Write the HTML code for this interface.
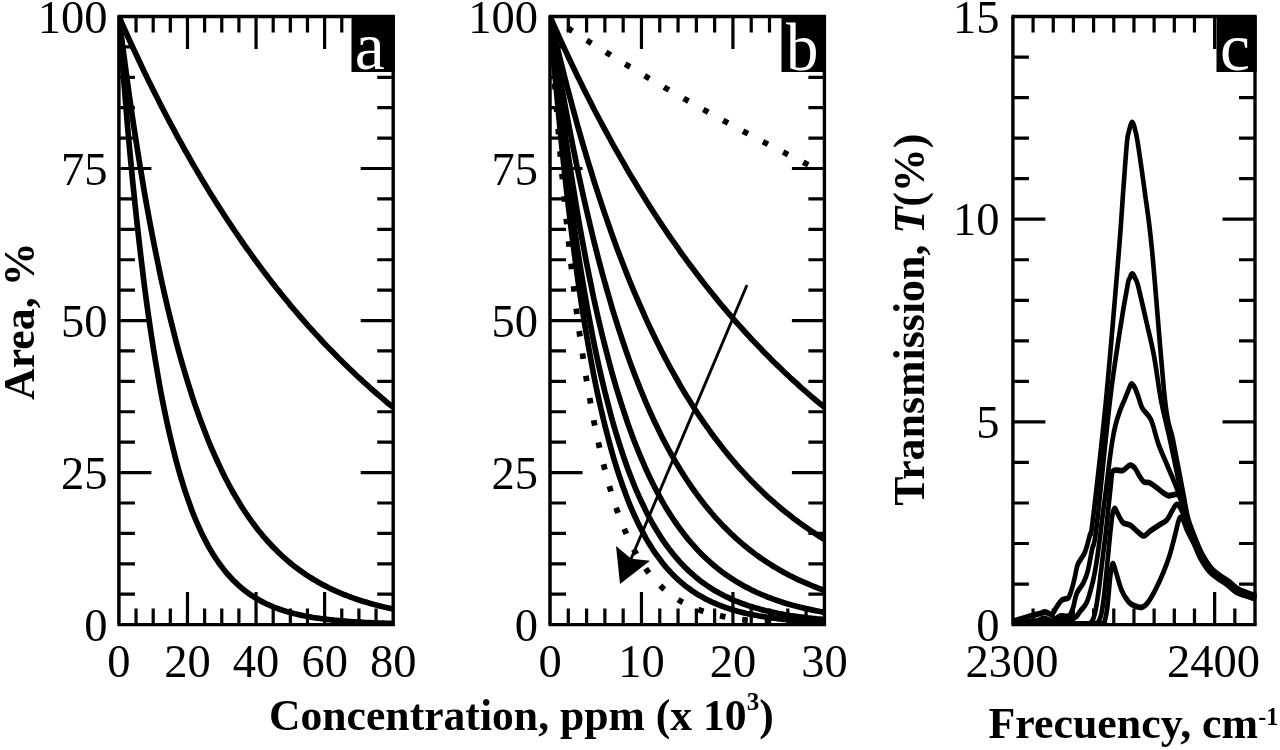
<!DOCTYPE html>
<html lang="en"><head><meta charset="utf-8"><title>Figure</title>
<style>
html,body{margin:0;padding:0;background:#fff;}
body{width:1280px;height:750px;overflow:hidden;}
svg{display:block;font-family:"Liberation Serif",serif;filter:blur(0.55px);}

</style></head><body>
<svg width="1280" height="750" viewBox="0 0 1280 750">
<rect width="1280" height="750" fill="#fff"/>
<g fill="none" stroke="#000">
<path d="M117.45 16.5H394.90" stroke-width="3.4"/>
<path d="M117.45 624.6H394.90" stroke-width="3.4"/>
<path d="M118.90 16.5V624.6" stroke-width="3.5"/>
<path d="M393.20 16.5V624.6" stroke-width="3.4"/>
<path d="M136.04 624.6v-16M136.04 16.5v16M153.19 624.6v-16M153.19 16.5v16M170.33 624.6v-16M170.33 16.5v16M187.47 624.6v-32.5M187.47 16.5v32.5M204.62 624.6v-16M204.62 16.5v16M221.76 624.6v-16M221.76 16.5v16M238.91 624.6v-16M238.91 16.5v16M256.05 624.6v-32.5M256.05 16.5v32.5M273.19 624.6v-16M273.19 16.5v16M290.34 624.6v-16M290.34 16.5v16M307.48 624.6v-16M307.48 16.5v16M324.62 624.6v-32.5M324.62 16.5v32.5M341.77 624.6v-16M341.77 16.5v16M358.91 624.6v-16M358.91 16.5v16M376.06 624.6v-16M376.06 16.5v16" stroke-width="3.2"/>
<path d="M118.90 594.20h16M393.20 594.20h-16M118.90 563.79h16M393.20 563.79h-16M118.90 533.38h16M393.20 533.38h-16M118.90 502.98h16M393.20 502.98h-16M118.90 472.58h32.5M393.20 472.58h-32.5M118.90 442.17h16M393.20 442.17h-16M118.90 411.76h16M393.20 411.76h-16M118.90 381.36h16M393.20 381.36h-16M118.90 350.95h16M393.20 350.95h-16M118.90 320.55h32.5M393.20 320.55h-32.5M118.90 290.14h16M393.20 290.14h-16M118.90 259.74h16M393.20 259.74h-16M118.90 229.33h16M393.20 229.33h-16M118.90 198.93h16M393.20 198.93h-16M118.90 168.52h32.5M393.20 168.52h-32.5M118.90 138.12h16M393.20 138.12h-16M118.90 107.72h16M393.20 107.72h-16M118.90 77.31h16M393.20 77.31h-16M118.90 46.90h16M393.20 46.90h-16" stroke-width="3.2"/>
<clipPath id="ca"><rect x="118.9" y="15.5" width="275.79999999999995" height="610.1"/></clipPath>
<g clip-path="url(#ca)">
<path d="M118.9 16.5L121.2 21.7L123.5 26.8L125.8 32.0L128.0 37.0L130.3 42.0L132.6 47.0L134.9 51.9L137.2 56.8L139.5 61.7L141.8 66.5L144.0 71.3L146.3 76.0L148.6 80.7L150.9 85.3L153.2 89.9L155.5 94.5L157.8 99.0L160.0 103.5L162.3 108.0L164.6 112.4L166.9 116.8L169.2 121.1L171.5 125.4L173.8 129.7L176.0 133.9L178.3 138.1L180.6 142.2L182.9 146.4L185.2 150.5L187.5 154.5L189.8 158.5L192.0 162.5L194.3 166.4L196.6 170.4L198.9 174.2L201.2 178.1L203.5 181.9L205.8 185.7L208.0 189.4L210.3 193.2L212.6 196.8L214.9 200.5L217.2 204.1L219.5 207.7L221.8 211.3L224.0 214.8L226.3 218.3L228.6 221.8L230.9 225.2L233.2 228.6L235.5 232.0L237.8 235.4L240.0 238.7L242.3 242.0L244.6 245.3L246.9 248.5L249.2 251.7L251.5 254.9L253.8 258.1L256.0 261.2L258.3 264.3L260.6 267.4L262.9 270.4L265.2 273.4L267.5 276.4L269.8 279.4L272.1 282.4L274.3 285.3L276.6 288.2L278.9 291.1L281.2 293.9L283.5 296.7L285.8 299.5L288.1 302.3L290.3 305.1L292.6 307.8L294.9 310.5L297.2 313.2L299.5 315.9L301.8 318.5L304.1 321.1L306.3 323.7L308.6 326.3L310.9 328.8L313.2 331.3L315.5 333.9L317.8 336.3L320.1 338.8L322.3 341.2L324.6 343.7L326.9 346.1L329.2 348.4L331.5 350.8L333.8 353.1L336.1 355.5L338.3 357.8L340.6 360.0L342.9 362.3L345.2 364.5L347.5 366.8L349.8 369.0L352.1 371.1L354.3 373.3L356.6 375.5L358.9 377.6L361.2 379.7L363.5 381.8L365.8 383.9L368.1 385.9L370.3 388.0L372.6 390.0L374.9 392.0L377.2 394.0L379.5 395.9L381.8 397.9L384.1 399.8L386.3 401.8L388.6 403.7L390.9 405.5L393.2 407.4" stroke-width="5.7"/>
<path d="M118.9 16.5L121.2 34.8L123.5 52.5L125.8 69.7L128.0 86.4L130.3 102.6L132.6 118.3L134.9 133.5L137.2 148.3L139.5 162.6L141.8 176.5L144.0 190.0L146.3 203.0L148.6 215.7L150.9 228.0L153.2 239.9L155.5 251.5L157.8 262.7L160.0 273.6L162.3 284.2L164.6 294.4L166.9 304.3L169.2 314.0L171.5 323.3L173.8 332.4L176.0 341.2L178.3 349.7L180.6 357.9L182.9 366.0L185.2 373.7L187.5 381.3L189.8 388.6L192.0 395.7L194.3 402.6L196.6 409.3L198.9 415.7L201.2 422.0L203.5 428.1L205.8 434.0L208.0 439.8L210.3 445.3L212.6 450.7L214.9 455.9L217.2 461.0L219.5 465.9L221.8 470.7L224.0 475.3L226.3 479.8L228.6 484.2L230.9 488.4L233.2 492.5L235.5 496.5L237.8 500.3L240.0 504.0L242.3 507.7L244.6 511.2L246.9 514.6L249.2 517.9L251.5 521.1L253.8 524.2L256.0 527.2L258.3 530.2L260.6 533.0L262.9 535.8L265.2 538.4L267.5 541.0L269.8 543.5L272.1 546.0L274.3 548.3L276.6 550.6L278.9 552.9L281.2 555.0L283.5 557.1L285.8 559.1L288.1 561.1L290.3 563.0L292.6 564.9L294.9 566.7L297.2 568.4L299.5 570.1L301.8 571.7L304.1 573.3L306.3 574.9L308.6 576.4L310.9 577.8L313.2 579.2L315.5 580.6L317.8 581.9L320.1 583.2L322.3 584.4L324.6 585.6L326.9 586.8L329.2 588.0L331.5 589.1L333.8 590.1L336.1 591.2L338.3 592.2L340.6 593.1L342.9 594.1L345.2 595.0L347.5 595.9L349.8 596.8L352.1 597.6L354.3 598.4L356.6 599.2L358.9 600.0L361.2 600.7L363.5 601.4L365.8 602.1L368.1 602.8L370.3 603.4L372.6 604.1L374.9 604.7L377.2 605.3L379.5 605.9L381.8 606.4L384.1 607.0L386.3 607.5L388.6 608.0L390.9 608.5L393.2 609.0" stroke-width="5.7"/>
<path d="M118.9 16.5L121.2 47.5L123.5 76.9L125.8 104.9L128.0 131.4L130.3 156.5L132.6 180.4L134.9 203.0L137.2 224.5L139.5 244.9L141.8 264.3L144.0 282.6L146.3 300.1L148.6 316.6L150.9 332.3L153.2 347.2L155.5 361.4L157.8 374.8L160.0 387.5L162.3 399.6L164.6 411.1L166.9 422.0L169.2 432.3L171.5 442.1L173.8 451.4L176.0 460.2L178.3 468.6L180.6 476.6L182.9 484.1L185.2 491.3L187.5 498.1L189.8 504.5L192.0 510.7L194.3 516.5L196.6 522.0L198.9 527.2L201.2 532.2L203.5 536.9L205.8 541.4L208.0 545.6L210.3 549.6L212.6 553.5L214.9 557.1L217.2 560.5L219.5 563.8L221.8 566.9L224.0 569.8L226.3 572.6L228.6 575.3L230.9 577.8L233.2 580.2L235.5 582.4L237.8 584.6L240.0 586.6L242.3 588.6L244.6 590.4L246.9 592.2L249.2 593.8L251.5 595.4L253.8 596.9L256.0 598.3L258.3 599.6L260.6 600.9L262.9 602.1L265.2 603.3L267.5 604.3L269.8 605.4L272.1 606.4L274.3 607.3L276.6 608.2L278.9 609.0L281.2 609.8L283.5 610.6L285.8 611.3L288.1 611.9L290.3 612.6L292.6 613.2L294.9 613.8L297.2 614.3L299.5 614.9L301.8 615.4L304.1 615.8L306.3 616.3L308.6 616.7L310.9 617.1L313.2 617.5L315.5 617.8L317.8 618.2L320.1 618.5L322.3 618.8L324.6 619.1L326.9 619.4L329.2 619.7L331.5 619.9L333.8 620.2L336.1 620.4L338.3 620.6L340.6 620.8L342.9 621.0L345.2 621.2L347.5 621.4L349.8 621.5L352.1 621.7L354.3 621.8L356.6 622.0L358.9 622.1L361.2 622.2L363.5 622.4L365.8 622.5L368.1 622.6L370.3 622.7L372.6 622.8L374.9 622.9L377.2 623.0L379.5 623.0L381.8 623.1L384.1 623.2L386.3 623.3L388.6 623.3L390.9 623.4L393.2 623.5" stroke-width="5.7"/>
</g>
<rect x="351.5" y="16.5" width="43.19999999999999" height="55.5" fill="#000" stroke="none"/>
<text transform="translate(354.7 69.3) scale(1.0 1)" font-size="67.5" text-anchor="start" font-weight="normal" stroke="none" fill="#fff">a</text>
<text transform="translate(107.5 640.6) scale(1.0 1)" font-size="46.5" text-anchor="end" font-weight="normal" stroke="none"  fill="#000">0</text>
<text transform="translate(107.5 488.57500000000005) scale(1.0 1)" font-size="46.5" text-anchor="end" font-weight="normal" stroke="none"  fill="#000">25</text>
<text transform="translate(107.5 336.55) scale(1.0 1)" font-size="46.5" text-anchor="end" font-weight="normal" stroke="none"  fill="#000">50</text>
<text transform="translate(107.5 184.52500000000003) scale(1.0 1)" font-size="46.5" text-anchor="end" font-weight="normal" stroke="none"  fill="#000">75</text>
<text transform="translate(107.5 33.0) scale(1.0 1)" font-size="46.5" text-anchor="end" font-weight="normal" stroke="none"  fill="#000">100</text>
<text transform="translate(118.9 677) scale(1.0 1)" font-size="46.5" text-anchor="middle" font-weight="normal" stroke="none"  fill="#000">0</text>
<text transform="translate(187.475 677) scale(1.0 1)" font-size="46.5" text-anchor="middle" font-weight="normal" stroke="none"  fill="#000">20</text>
<text transform="translate(256.04999999999995 677) scale(1.0 1)" font-size="46.5" text-anchor="middle" font-weight="normal" stroke="none"  fill="#000">40</text>
<text transform="translate(324.625 677) scale(1.0 1)" font-size="46.5" text-anchor="middle" font-weight="normal" stroke="none"  fill="#000">60</text>
<text transform="translate(393.19999999999993 677) scale(1.0 1)" font-size="46.5" text-anchor="middle" font-weight="normal" stroke="none"  fill="#000">80</text>
<path d="M548.55 16.5H826.10" stroke-width="3.4"/>
<path d="M548.55 624.6H826.10" stroke-width="3.4"/>
<path d="M550.00 16.5V624.6" stroke-width="3.5"/>
<path d="M824.40 16.5V624.6" stroke-width="3.4"/>
<path d="M568.29 624.6v-16M568.29 16.5v16M586.59 624.6v-16M586.59 16.5v16M604.88 624.6v-16M604.88 16.5v16M623.17 624.6v-16M623.17 16.5v16M641.47 624.6v-32.5M641.47 16.5v32.5M659.76 624.6v-16M659.76 16.5v16M678.05 624.6v-16M678.05 16.5v16M696.35 624.6v-16M696.35 16.5v16M714.64 624.6v-16M714.64 16.5v16M732.93 624.6v-32.5M732.93 16.5v32.5M751.23 624.6v-16M751.23 16.5v16M769.52 624.6v-16M769.52 16.5v16M787.81 624.6v-16M787.81 16.5v16M806.11 624.6v-16M806.11 16.5v16" stroke-width="3.2"/>
<path d="M550.00 594.20h16M824.40 594.20h-16M550.00 563.79h16M824.40 563.79h-16M550.00 533.38h16M824.40 533.38h-16M550.00 502.98h16M824.40 502.98h-16M550.00 472.58h32.5M824.40 472.58h-32.5M550.00 442.17h16M824.40 442.17h-16M550.00 411.76h16M824.40 411.76h-16M550.00 381.36h16M824.40 381.36h-16M550.00 350.95h16M824.40 350.95h-16M550.00 320.55h32.5M824.40 320.55h-32.5M550.00 290.14h16M824.40 290.14h-16M550.00 259.74h16M824.40 259.74h-16M550.00 229.33h16M824.40 229.33h-16M550.00 198.93h16M824.40 198.93h-16M550.00 168.52h32.5M824.40 168.52h-32.5M550.00 138.12h16M824.40 138.12h-16M550.00 107.72h16M824.40 107.72h-16M550.00 77.31h16M824.40 77.31h-16M550.00 46.90h16M824.40 46.90h-16" stroke-width="3.2"/>
<clipPath id="cb"><rect x="550.0" y="15.5" width="275.9" height="610.1"/></clipPath>
<g clip-path="url(#cb)">
<path d="M550.0 16.5L552.3 21.7L554.6 26.8L556.9 31.9L559.1 37.0L561.4 42.0L563.7 47.0L566.0 51.9L568.3 56.8L570.6 61.7L572.9 66.5L575.2 71.2L577.4 76.0L579.7 80.6L582.0 85.3L584.3 89.9L586.6 94.5L588.9 99.0L591.2 103.5L593.4 107.9L595.7 112.3L598.0 116.7L600.3 121.0L602.6 125.3L604.9 129.6L607.2 133.8L609.5 138.0L611.7 142.2L614.0 146.3L616.3 150.4L618.6 154.4L620.9 158.4L623.2 162.4L625.5 166.4L627.7 170.3L630.0 174.2L632.3 178.0L634.6 181.8L636.9 185.6L639.2 189.4L641.5 193.1L643.8 196.8L646.0 200.4L648.3 204.0L650.6 207.6L652.9 211.2L655.2 214.7L657.5 218.2L659.8 221.7L662.0 225.1L664.3 228.5L666.6 231.9L668.9 235.3L671.2 238.6L673.5 241.9L675.8 245.2L678.1 248.4L680.3 251.6L682.6 254.8L684.9 257.9L687.2 261.1L689.5 264.2L691.8 267.3L694.1 270.3L696.3 273.3L698.6 276.3L700.9 279.3L703.2 282.3L705.5 285.2L707.8 288.1L710.1 291.0L712.4 293.8L714.6 296.6L716.9 299.4L719.2 302.2L721.5 305.0L723.8 307.7L726.1 310.4L728.4 313.1L730.6 315.7L732.9 318.4L735.2 321.0L737.5 323.6L739.8 326.1L742.1 328.7L744.4 331.2L746.7 333.7L748.9 336.2L751.2 338.7L753.5 341.1L755.8 343.5L758.1 345.9L760.4 348.3L762.7 350.7L764.9 353.0L767.2 355.3L769.5 357.6L771.8 359.9L774.1 362.2L776.4 364.4L778.7 366.6L781.0 368.8L783.2 371.0L785.5 373.2L787.8 375.3L790.1 377.5L792.4 379.6L794.7 381.7L797.0 383.7L799.2 385.8L801.5 387.8L803.8 389.9L806.1 391.9L808.4 393.8L810.7 395.8L813.0 397.8L815.3 399.7L817.5 401.6L819.8 403.5L822.1 405.4L824.4 407.3" stroke-width="5.7"/>
<path d="M550.0 16.5L552.3 26.4L554.6 36.1L556.9 45.7L559.1 55.1L561.4 64.3L563.7 73.4L566.0 82.4L568.3 91.2L570.6 99.8L572.9 108.4L575.2 116.7L577.4 125.0L579.7 133.1L582.0 141.1L584.3 148.9L586.6 156.7L588.9 164.3L591.2 171.7L593.4 179.1L595.7 186.3L598.0 193.4L600.3 200.4L602.6 207.3L604.9 214.1L607.2 220.8L609.5 227.3L611.7 233.8L614.0 240.1L616.3 246.4L618.6 252.5L620.9 258.6L623.2 264.5L625.5 270.4L627.7 276.1L630.0 281.8L632.3 287.3L634.6 292.8L636.9 298.2L639.2 303.5L641.5 308.7L643.8 313.9L646.0 318.9L648.3 323.9L650.6 328.8L652.9 333.6L655.2 338.3L657.5 342.9L659.8 347.5L662.0 352.0L664.3 356.4L666.6 360.8L668.9 365.1L671.2 369.3L673.5 373.4L675.8 377.5L678.1 381.5L680.3 385.5L682.6 389.4L684.9 393.2L687.2 396.9L689.5 400.6L691.8 404.3L694.1 407.9L696.3 411.4L698.6 414.8L700.9 418.2L703.2 421.6L705.5 424.9L707.8 428.1L710.1 431.3L712.4 434.5L714.6 437.6L716.9 440.6L719.2 443.6L721.5 446.5L723.8 449.4L726.1 452.3L728.4 455.1L730.6 457.8L732.9 460.5L735.2 463.2L737.5 465.8L739.8 468.4L742.1 470.9L744.4 473.4L746.7 475.9L748.9 478.3L751.2 480.7L753.5 483.0L755.8 485.3L758.1 487.6L760.4 489.8L762.7 492.0L764.9 494.1L767.2 496.3L769.5 498.3L771.8 500.4L774.1 502.4L776.4 504.4L778.7 506.3L781.0 508.3L783.2 510.2L785.5 512.0L787.8 513.8L790.1 515.6L792.4 517.4L794.7 519.2L797.0 520.9L799.2 522.5L801.5 524.2L803.8 525.8L806.1 527.4L808.4 529.0L810.7 530.6L813.0 532.1L815.3 533.6L817.5 535.1L819.8 536.5L822.1 538.0L824.4 539.4" stroke-width="5.7"/>
<path d="M550.0 16.5L552.3 30.9L554.6 45.0L556.9 58.7L559.1 72.2L561.4 85.3L563.7 98.1L566.0 110.5L568.3 122.7L570.6 134.6L572.9 146.3L575.2 157.6L577.4 168.7L579.7 179.5L582.0 190.0L584.3 200.3L586.6 210.4L588.9 220.2L591.2 229.8L593.4 239.2L595.7 248.3L598.0 257.2L600.3 266.0L602.6 274.5L604.9 282.8L607.2 290.9L609.5 298.8L611.7 306.5L614.0 314.1L616.3 321.4L618.6 328.6L620.9 335.6L623.2 342.5L625.5 349.2L627.7 355.7L630.0 362.1L632.3 368.3L634.6 374.4L636.9 380.3L639.2 386.1L641.5 391.8L643.8 397.3L646.0 402.7L648.3 407.9L650.6 413.1L652.9 418.1L655.2 423.0L657.5 427.8L659.8 432.4L662.0 437.0L664.3 441.4L666.6 445.8L668.9 450.0L671.2 454.2L673.5 458.2L675.8 462.2L678.1 466.0L680.3 469.8L682.6 473.4L684.9 477.0L687.2 480.5L689.5 483.9L691.8 487.3L694.1 490.5L696.3 493.7L698.6 496.8L700.9 499.8L703.2 502.8L705.5 505.7L707.8 508.5L710.1 511.3L712.4 514.0L714.6 516.6L716.9 519.1L719.2 521.6L721.5 524.1L723.8 526.5L726.1 528.8L728.4 531.1L730.6 533.3L732.9 535.4L735.2 537.6L737.5 539.6L739.8 541.6L742.1 543.6L744.4 545.5L746.7 547.4L748.9 549.2L751.2 551.0L753.5 552.8L755.8 554.5L758.1 556.1L760.4 557.8L762.7 559.3L764.9 560.9L767.2 562.4L769.5 563.9L771.8 565.3L774.1 566.7L776.4 568.1L778.7 569.4L781.0 570.7L783.2 572.0L785.5 573.3L787.8 574.5L790.1 575.7L792.4 576.8L794.7 578.0L797.0 579.1L799.2 580.2L801.5 581.2L803.8 582.2L806.1 583.2L808.4 584.2L810.7 585.2L813.0 586.1L815.3 587.0L817.5 587.9L819.8 588.8L822.1 589.6L824.4 590.5" stroke-width="5.7"/>
<path d="M550.0 16.5L552.3 35.9L554.6 54.8L556.9 73.0L559.1 90.6L561.4 107.7L563.7 124.2L566.0 140.2L568.3 155.7L570.6 170.7L572.9 185.2L575.2 199.3L577.4 212.9L579.7 226.0L582.0 238.8L584.3 251.1L586.6 263.1L588.9 274.6L591.2 285.8L593.4 296.7L595.7 307.1L598.0 317.3L600.3 327.1L602.6 336.6L604.9 345.8L607.2 354.8L609.5 363.4L611.7 371.7L614.0 379.8L616.3 387.7L618.6 395.2L620.9 402.6L623.2 409.7L625.5 416.5L627.7 423.2L630.0 429.6L632.3 435.9L634.6 441.9L636.9 447.7L639.2 453.4L641.5 458.9L643.8 464.2L646.0 469.3L648.3 474.3L650.6 479.1L652.9 483.7L655.2 488.2L657.5 492.6L659.8 496.8L662.0 500.9L664.3 504.9L666.6 508.7L668.9 512.4L671.2 516.0L673.5 519.5L675.8 522.8L678.1 526.1L680.3 529.2L682.6 532.3L684.9 535.2L687.2 538.1L689.5 540.8L691.8 543.5L694.1 546.1L696.3 548.6L698.6 551.1L700.9 553.4L703.2 555.7L705.5 557.9L707.8 560.0L710.1 562.1L712.4 564.1L714.6 566.0L716.9 567.9L719.2 569.7L721.5 571.5L723.8 573.2L726.1 574.8L728.4 576.4L730.6 577.9L732.9 579.4L735.2 580.9L737.5 582.3L739.8 583.6L742.1 584.9L744.4 586.2L746.7 587.4L748.9 588.6L751.2 589.8L753.5 590.9L755.8 592.0L758.1 593.0L760.4 594.0L762.7 595.0L764.9 595.9L767.2 596.9L769.5 597.7L771.8 598.6L774.1 599.4L776.4 600.2L778.7 601.0L781.0 601.8L783.2 602.5L785.5 603.2L787.8 603.9L790.1 604.6L792.4 605.2L794.7 605.8L797.0 606.4L799.2 607.0L801.5 607.6L803.8 608.1L806.1 608.6L808.4 609.1L810.7 609.6L813.0 610.1L815.3 610.6L817.5 611.0L819.8 611.5L822.1 611.9L824.4 612.3" stroke-width="5.7"/>
<path d="M550.0 16.5L552.3 40.3L554.6 63.3L556.9 85.3L559.1 106.4L561.4 126.7L563.7 146.3L566.0 165.0L568.3 183.0L570.6 200.3L572.9 217.0L575.2 233.0L577.4 248.3L579.7 263.1L582.0 277.2L584.3 290.9L586.6 304.0L588.9 316.5L591.2 328.6L593.4 340.2L595.7 351.4L598.0 362.1L600.3 372.4L602.6 382.3L604.9 391.8L607.2 400.9L609.5 409.7L611.7 418.1L614.0 426.2L616.3 434.0L618.6 441.4L620.9 448.6L623.2 455.5L625.5 462.2L627.7 468.5L630.0 474.6L632.3 480.5L634.6 486.2L636.9 491.6L639.2 496.8L641.5 501.8L643.8 506.6L646.0 511.3L648.3 515.7L650.6 520.0L652.9 524.1L655.2 528.0L657.5 531.8L659.8 535.4L662.0 538.9L664.3 542.3L666.6 545.5L668.9 548.6L671.2 551.6L673.5 554.5L675.8 557.2L678.1 559.9L680.3 562.4L682.6 564.8L684.9 567.2L687.2 569.4L689.5 571.6L691.8 573.7L694.1 575.7L696.3 577.6L698.6 579.4L700.9 581.2L703.2 582.9L705.5 584.5L707.8 586.1L710.1 587.6L712.4 589.1L714.6 590.5L716.9 591.8L719.2 593.1L721.5 594.3L723.8 595.5L726.1 596.7L728.4 597.7L730.6 598.8L732.9 599.8L735.2 600.8L737.5 601.7L739.8 602.6L742.1 603.5L744.4 604.3L746.7 605.1L748.9 605.9L751.2 606.6L753.5 607.3L755.8 608.0L758.1 608.6L760.4 609.3L762.7 609.9L764.9 610.4L767.2 611.0L769.5 611.5L771.8 612.0L774.1 612.5L776.4 613.0L778.7 613.5L781.0 613.9L783.2 614.3L785.5 614.7L787.8 615.1L790.1 615.5L792.4 615.8L794.7 616.2L797.0 616.5L799.2 616.8L801.5 617.1L803.8 617.4L806.1 617.7L808.4 618.0L810.7 618.2L813.0 618.5L815.3 618.7L817.5 619.0L819.8 619.2L822.1 619.4L824.4 619.6" stroke-width="5.7"/>
<path d="M550.0 16.5L552.3 44.1L554.6 70.5L556.9 95.7L559.1 119.7L561.4 142.7L563.7 164.5L566.0 185.5L568.3 205.4L570.6 224.5L572.9 242.6L575.2 260.0L577.4 276.6L579.7 292.4L582.0 307.5L584.3 321.9L586.6 335.6L588.9 348.8L591.2 361.3L593.4 373.3L595.7 384.7L598.0 395.6L600.3 406.0L602.6 415.9L604.9 425.4L607.2 434.4L609.5 443.1L611.7 451.3L614.0 459.2L616.3 466.7L618.6 473.9L620.9 480.7L623.2 487.3L625.5 493.5L627.7 499.5L630.0 505.2L632.3 510.6L634.6 515.8L636.9 520.7L639.2 525.4L641.5 529.9L643.8 534.2L646.0 538.3L648.3 542.3L650.6 546.0L652.9 549.6L655.2 553.0L657.5 556.2L659.8 559.3L662.0 562.3L664.3 565.1L666.6 567.8L668.9 570.4L671.2 572.9L673.5 575.2L675.8 577.5L678.1 579.6L680.3 581.7L682.6 583.6L684.9 585.5L687.2 587.2L689.5 588.9L691.8 590.6L694.1 592.1L696.3 593.6L698.6 595.0L700.9 596.3L703.2 597.6L705.5 598.9L707.8 600.0L710.1 601.1L712.4 602.2L714.6 603.2L716.9 604.2L719.2 605.1L721.5 606.0L723.8 606.9L726.1 607.7L728.4 608.4L730.6 609.2L732.9 609.9L735.2 610.5L737.5 611.2L739.8 611.8L742.1 612.4L744.4 612.9L746.7 613.5L748.9 614.0L751.2 614.4L753.5 614.9L755.8 615.3L758.1 615.8L760.4 616.2L762.7 616.5L764.9 616.9L767.2 617.3L769.5 617.6L771.8 617.9L774.1 618.2L776.4 618.5L778.7 618.8L781.0 619.0L783.2 619.3L785.5 619.5L787.8 619.8L790.1 620.0L792.4 620.2L794.7 620.4L797.0 620.6L799.2 620.8L801.5 620.9L803.8 621.1L806.1 621.3L808.4 621.4L810.7 621.6L813.0 621.7L815.3 621.8L817.5 622.0L819.8 622.1L822.1 622.2L824.4 622.3" stroke-width="5.7"/>
<path d="M550.0 16.5L552.2 17.9L554.4 19.4L556.5 20.8L558.7 22.2L560.9 23.6L563.1 25.0L565.3 26.5L567.4 27.9L569.6 29.3L571.8 30.7L574.0 32.1L576.2 33.5L578.3 34.9L580.5 36.3L582.7 37.6L584.9 39.0L587.1 40.4L589.2 41.8L591.4 43.2L593.6 44.5L595.8 45.9L598.0 47.3L600.1 48.6L602.3 50.0L604.5 51.3L606.7 52.7L608.9 54.0L611.0 55.4L613.2 56.7L615.4 58.1L617.6 59.4L619.8 60.7L621.9 62.1L624.1 63.4L626.3 64.7L628.5 66.0L630.7 67.3L632.8 68.7L635.0 70.0L637.2 71.3L639.4 72.6L641.6 73.9L643.7 75.2L645.9 76.5L648.1 77.8L650.3 79.0L652.5 80.3L654.6 81.6L656.8 82.9L659.0 84.2L661.2 85.4L663.4 86.7L665.5 88.0L667.7 89.2L669.9 90.5L672.1 91.8L674.3 93.0L676.4 94.3L678.6 95.5L680.8 96.8L683.0 98.0L685.2 99.3L687.3 100.5L689.5 101.7L691.7 103.0L693.9 104.2L696.1 105.4L698.2 106.6L700.4 107.9L702.6 109.1L704.8 110.3L707.0 111.5L709.1 112.7L711.3 113.9L713.5 115.1L715.7 116.3L717.9 117.5L720.0 118.7L722.2 119.9L724.4 121.1L726.6 122.3L728.8 123.5L730.9 124.7L733.1 125.8L735.3 127.0L737.5 128.2L739.7 129.3L741.8 130.5L744.0 131.7L746.2 132.8L748.4 134.0L750.6 135.2L752.7 136.3L754.9 137.5L757.1 138.6L759.3 139.8L761.5 140.9L763.6 142.0L765.8 143.2L768.0 144.3L770.2 145.4L772.4 146.6L774.5 147.7L776.7 148.8L778.9 149.9L781.1 151.1L783.3 152.2L785.4 153.3L787.6 154.4L789.8 155.5L792.0 156.6L794.2 157.7L796.3 158.8L798.5 159.9L800.7 161.0L802.9 162.1L805.1 163.2L807.2 164.3L809.4 165.4L811.6 166.4" stroke-width="5.8" stroke-dasharray="5.6 17.0" stroke-dashoffset="-21.2"/>
<path d="M550.0 16.5L552.3 50.2L554.6 82.0L556.9 112.1L559.1 140.5L561.4 167.3L563.7 192.6L566.0 216.6L568.3 239.2L570.6 260.5L572.9 280.7L575.2 299.8L577.4 317.8L579.7 334.8L582.0 350.8L584.3 366.0L586.6 380.3L588.9 393.8L591.2 406.6L593.4 418.7L595.7 430.1L598.0 440.9L600.3 451.1L602.6 460.7L604.9 469.8L607.2 478.3L609.5 486.5L611.7 494.1L614.0 501.3L616.3 508.2L618.6 514.6L620.9 520.7L623.2 526.5L625.5 531.9L627.7 537.0L630.0 541.9L632.3 546.5L634.6 550.8L636.9 554.9L639.2 558.8L641.5 562.4L643.8 565.8L646.0 569.1L648.3 572.2L650.6 575.1L652.9 577.8L655.2 580.4L657.5 582.9L659.8 585.2L662.0 587.4L664.3 589.4L666.6 591.4L668.9 593.2L671.2 595.0L673.5 596.6L675.8 598.1L678.1 599.6L680.3 601.0L682.6 602.3L684.9 603.5L687.2 604.7L689.5 605.8L691.8 606.9L694.1 607.8L696.3 608.8L698.6 609.6L700.9 610.5L703.2 611.3L705.5 612.0L707.8 612.7L710.1 613.4L712.4 614.0L714.6 614.6L716.9 615.1L719.2 615.6L721.5 616.1L723.8 616.6L726.1 617.1L728.4 617.5L730.6 617.9L732.9 618.2L735.2 618.6L737.5 618.9L739.8 619.2L742.1 619.5L744.4 619.8L746.7 620.1L748.9 620.3L751.2 620.6L753.5 620.8L755.8 621.0L758.1 621.2L760.4 621.4L762.7 621.6L764.9 621.7L767.2 621.9L769.5 622.0L771.8 622.2L774.1 622.3L776.4 622.4L778.7 622.6L781.0 622.7L783.2 622.8L785.5 622.9L787.8 623.0L790.1 623.1L792.4 623.2L794.7 623.2L797.0 623.3L799.2 623.4L801.5 623.4L803.8 623.5L806.1 623.6L808.4 623.6L810.7 623.7L813.0 623.7L815.3 623.8L817.5 623.8L819.8 623.9L822.1 623.9L824.4 623.9" stroke-width="5.8" stroke-dasharray="5.6 17.0" stroke-dashoffset="0.5"/>
</g>
<path d="M747 285L631 559" stroke-width="2.9"/>
<path d="M620 584L616 546L631.3 558.7L650 560.7Z" fill="#000" stroke="none"/>
<rect x="781.5" y="16.5" width="44.39999999999998" height="55.5" fill="#000" stroke="none"/>
<text transform="translate(786 69.7) scale(0.96 1)" font-size="67.5" text-anchor="start" font-weight="normal" stroke="none" fill="#fff">b</text>
<text transform="translate(538 640.6) scale(1.0 1)" font-size="46.5" text-anchor="end" font-weight="normal" stroke="none"  fill="#000">0</text>
<text transform="translate(538 488.57500000000005) scale(1.0 1)" font-size="46.5" text-anchor="end" font-weight="normal" stroke="none"  fill="#000">25</text>
<text transform="translate(538 336.55) scale(1.0 1)" font-size="46.5" text-anchor="end" font-weight="normal" stroke="none"  fill="#000">50</text>
<text transform="translate(538 184.52500000000003) scale(1.0 1)" font-size="46.5" text-anchor="end" font-weight="normal" stroke="none"  fill="#000">75</text>
<text transform="translate(538 33.0) scale(1.0 1)" font-size="46.5" text-anchor="end" font-weight="normal" stroke="none"  fill="#000">100</text>
<text transform="translate(550.0 677) scale(1.0 1)" font-size="46.5" text-anchor="middle" font-weight="normal" stroke="none"  fill="#000">0</text>
<text transform="translate(641.4666666666667 677) scale(1.0 1)" font-size="46.5" text-anchor="middle" font-weight="normal" stroke="none"  fill="#000">10</text>
<text transform="translate(732.9333333333334 677) scale(1.0 1)" font-size="46.5" text-anchor="middle" font-weight="normal" stroke="none"  fill="#000">20</text>
<text transform="translate(824.4 677) scale(1.0 1)" font-size="46.5" text-anchor="middle" font-weight="normal" stroke="none"  fill="#000">30</text>
<path d="M1011.50 16.5H1256.70" stroke-width="3.4"/>
<path d="M1011.50 624.6H1256.70" stroke-width="3.4"/>
<path d="M1012.90 16.5V624.6" stroke-width="3.4"/>
<path d="M1255.00 16.5V624.6" stroke-width="3.4"/>
<path d="M1033.08 624.6v-16M1033.08 16.5v16M1053.25 624.6v-16M1053.25 16.5v16M1073.42 624.6v-16M1073.42 16.5v16M1093.60 624.6v-16M1093.60 16.5v16M1113.78 624.6v-16M1113.78 16.5v16M1133.95 624.6v-16M1133.95 16.5v16M1154.12 624.6v-16M1154.12 16.5v16M1174.30 624.6v-16M1174.30 16.5v16M1194.47 624.6v-16M1194.47 16.5v16M1214.65 624.6v-32.5M1214.65 16.5v32.5M1234.83 624.6v-16M1234.83 16.5v16" stroke-width="3.2"/>
<path d="M1012.90 584.06h16M1255.00 584.06h-16M1012.90 543.52h16M1255.00 543.52h-16M1012.90 502.98h16M1255.00 502.98h-16M1012.90 462.44h16M1255.00 462.44h-16M1012.90 421.90h32.5M1255.00 421.90h-32.5M1012.90 381.36h16M1255.00 381.36h-16M1012.90 340.82h16M1255.00 340.82h-16M1012.90 300.28h16M1255.00 300.28h-16M1012.90 259.74h16M1255.00 259.74h-16M1012.90 219.20h32.5M1255.00 219.20h-32.5M1012.90 178.66h16M1255.00 178.66h-16M1012.90 138.12h16M1255.00 138.12h-16M1012.90 97.58h16M1255.00 97.58h-16M1012.90 57.04h16M1255.00 57.04h-16" stroke-width="3.2"/>
<clipPath id="cc"><rect x="1012.9" y="15.5" width="243.60000000000002" height="610.1"/></clipPath>
<g clip-path="url(#cc)" stroke-linejoin="round">
<g transform="translate(1012.9 0) scale(0.8 1)">
<path d="M-0.9 621.5C3.3 620.5 18.1 616.8 23.9 615.5C29.7 614.2 31.3 614.1 33.9 613.5C36.5 612.9 37.6 612.0 39.5 612.0C41.4 612.0 43.6 613.1 45.1 613.5C46.7 613.9 47.4 615.4 48.9 614.5C50.3 613.6 51.9 610.3 53.9 608.0C55.8 605.7 58.6 602.0 60.5 600.5C62.4 599.0 63.6 599.5 65.1 599.0C66.7 598.5 68.4 599.0 69.8 597.5C71.1 596.0 72.0 593.1 73.3 590.0C74.5 586.9 75.8 582.8 77.0 578.7C78.2 574.6 79.3 568.8 80.6 565.5C82.0 562.2 83.6 561.2 85.1 559.0C86.7 556.8 88.5 555.0 89.9 552.5C91.2 550.0 92.2 547.0 93.3 544.0C94.3 541.0 95.1 538.7 96.3 534.7C97.4 530.7 96.5 542.5 99.9 520.0C103.2 497.6 110.9 445.0 116.4 400.0C121.8 355.0 129.0 285.0 132.6 250.0C136.2 215.0 136.3 208.0 138.0 190.0C139.7 172.0 141.4 151.8 142.6 142.0C143.8 132.2 144.4 133.9 145.1 131.0C145.9 128.1 146.6 126.2 147.3 124.8C147.9 123.4 148.5 122.4 149.1 122.4C149.8 122.4 150.3 123.4 151.0 124.8C151.7 126.2 152.3 128.1 153.1 131.0C153.9 133.9 154.0 132.2 155.9 142.0C157.8 151.8 161.5 172.0 164.5 190.0C167.5 208.0 169.6 215.0 173.9 250.0C178.1 285.0 185.8 368.3 190.1 400.0C194.5 431.7 196.4 424.7 200.1 440.0C203.9 455.3 209.5 478.9 212.6 492.0C215.8 505.1 216.4 510.6 219.1 518.7C221.9 526.8 226.2 534.6 229.2 540.7C232.3 546.8 234.3 550.8 237.5 555.4C240.7 560.1 244.8 565.2 248.5 568.6C252.2 572.0 255.8 573.7 259.5 575.9C263.2 578.1 266.8 579.5 270.5 581.7C274.2 583.9 277.8 587.3 281.5 589.1C285.2 590.9 288.5 591.6 292.5 592.7C296.5 593.9 303.3 595.5 305.5 596.0" stroke-width="5.8"/>
<path d="M0.1 623.0C4.7 622.8 21.2 622.2 27.6 621.5C34.0 620.8 34.9 618.6 38.5 618.5C42.1 618.4 46.1 621.4 49.5 621.0C52.9 620.6 55.4 616.8 58.8 616.0C62.1 615.2 67.0 617.3 69.8 616.0C72.5 614.7 73.5 611.8 75.1 608.0C76.8 604.2 77.6 597.5 79.8 593.3C81.9 589.1 85.7 586.7 88.0 583.0C90.3 579.3 91.7 576.9 93.5 571.3C95.3 565.7 97.2 556.6 99.0 549.3C100.8 542.0 100.8 552.2 104.5 527.3C108.2 502.4 116.5 432.9 121.4 400.0C126.3 367.1 130.2 349.2 133.9 330.0C137.5 310.8 141.4 293.6 143.4 285.0C145.4 276.4 145.2 280.2 145.9 278.5C146.6 276.8 147.1 275.8 147.6 275.0C148.2 274.2 148.7 273.8 149.2 273.8C149.8 273.8 150.3 274.2 150.9 275.0C151.5 275.8 152.0 276.8 152.9 278.5C153.8 280.2 154.1 278.6 156.4 285.5C158.6 292.4 163.0 308.2 166.4 320.0C169.7 331.8 173.3 342.7 176.4 356.0C179.5 369.3 181.8 386.0 185.1 400.0C188.5 414.0 192.2 424.7 196.4 440.0C200.5 455.3 206.4 478.8 210.1 492.0C213.8 505.2 215.4 511.0 218.5 519.2C221.6 527.4 225.6 535.1 228.6 541.2C231.7 547.3 233.7 551.3 236.9 555.9C240.1 560.6 244.2 565.7 247.9 569.1C251.5 572.5 255.2 574.2 258.9 576.4C262.5 578.6 266.2 580.0 269.9 582.2C273.5 584.4 277.2 587.8 280.9 589.6C284.5 591.4 287.9 592.1 291.9 593.2C295.9 594.4 302.7 596.0 304.9 596.5" stroke-width="5.8"/>
<path d="M0.1 623.5C9.6 623.2 45.3 622.1 56.9 621.5C68.5 620.9 66.1 620.5 69.8 619.7C73.4 618.9 76.4 618.3 78.9 616.8C81.3 615.3 82.3 613.1 84.4 610.9C86.5 608.7 89.5 607.0 91.6 603.6C93.8 600.2 95.3 595.8 97.1 590.4C99.0 585.0 100.8 579.4 102.6 571.3C104.5 563.2 106.7 550.5 108.1 542.0C109.6 533.5 110.0 528.7 111.4 520.0C112.8 511.3 114.7 500.5 116.4 490.0C118.0 479.5 120.0 465.3 121.4 457.0C122.7 448.7 123.4 445.3 124.5 440.0C125.6 434.7 126.8 429.7 128.3 425.0C129.7 420.3 131.4 416.2 133.3 412.0C135.1 407.8 137.5 403.7 139.4 400.0C141.3 396.3 143.1 392.7 144.5 390.0C145.9 387.3 146.7 384.5 148.0 384.0C149.2 383.5 150.6 385.1 152.0 387.0C153.4 388.9 154.6 391.9 156.3 395.5C157.9 399.1 159.3 404.5 162.0 408.5C164.7 412.5 169.3 413.8 172.6 419.7C175.9 425.6 178.4 436.2 181.9 444.0C185.4 451.8 189.6 458.9 193.5 466.4C197.4 473.9 201.7 481.5 205.1 488.8C208.5 496.1 210.1 501.2 213.9 510.0C217.7 518.8 224.2 534.0 227.9 541.8C231.6 549.5 232.9 551.9 236.1 556.5C239.3 561.1 243.5 566.3 247.1 569.7C250.8 573.1 254.5 574.8 258.1 577.0C261.8 579.2 265.5 580.6 269.1 582.8C272.8 585.0 276.5 588.4 280.1 590.2C283.8 592.0 287.1 592.6 291.1 593.8C295.1 594.9 302.0 596.5 304.1 597.1" stroke-width="5.8"/>
<path d="M0.1 624.0C14.9 624.0 72.6 624.0 88.9 623.8C105.1 623.5 95.3 624.3 97.6 622.5C99.9 620.7 101.1 618.1 102.6 613.0C104.2 607.9 105.5 600.3 107.0 592.0C108.5 583.7 109.9 572.5 111.4 563.0C112.8 553.5 114.4 544.3 115.8 535.0C117.1 525.7 118.4 515.3 119.5 507.0C120.6 498.7 121.6 490.8 122.4 485.0C123.2 479.2 123.2 474.7 124.4 472.2C125.6 469.7 127.4 470.4 129.6 470.1C131.8 469.8 134.7 471.3 137.5 470.5C140.3 469.7 143.8 465.6 146.3 465.2C148.7 464.8 150.3 466.1 152.4 468.0C154.4 469.9 156.6 474.1 158.5 476.4C160.4 478.7 161.7 480.9 163.8 482.0C165.8 483.1 168.3 481.9 170.8 482.7C173.2 483.5 175.9 485.3 178.6 486.9C181.4 488.5 184.7 491.0 187.4 492.5C190.0 494.0 192.0 495.3 194.4 495.7C196.7 496.1 199.2 494.7 201.4 494.6C203.6 494.5 205.6 493.6 207.5 495.3C209.4 497.0 211.0 500.8 212.6 505.0C214.2 509.2 214.6 514.2 217.0 520.4C219.4 526.6 224.1 536.3 227.1 542.4C230.2 548.5 232.2 552.5 235.4 557.1C238.6 561.8 242.7 566.9 246.4 570.3C250.0 573.7 253.7 575.4 257.4 577.6C261.0 579.8 264.7 581.2 268.4 583.4C272.0 585.6 275.7 589.0 279.4 590.8C283.0 592.6 286.4 593.2 290.4 594.4C294.4 595.5 301.2 597.1 303.4 597.7" stroke-width="5.8"/>
<path d="M0.1 624.0C16.4 624.0 80.0 624.2 97.6 624.0C115.2 623.8 103.6 624.7 105.8 623.0C107.9 621.3 109.1 618.5 110.5 614.0C111.9 609.5 112.8 603.0 113.9 596.0C115.0 589.0 116.0 580.3 117.0 572.0C118.0 563.7 119.1 554.0 120.1 546.0C121.1 538.0 122.0 529.7 122.9 524.0C123.7 518.3 124.3 514.6 125.1 512.0C126.0 509.4 126.8 508.2 127.9 508.6C128.9 509.0 129.8 511.9 131.4 514.2C133.0 516.5 134.9 520.7 137.5 522.6C140.1 524.5 144.1 523.9 147.1 525.4C150.2 526.9 153.1 530.0 155.9 531.7C158.6 533.5 161.1 536.0 163.8 535.9C166.4 535.8 168.6 532.8 171.6 531.0C174.7 529.2 178.6 527.3 182.1 525.4C185.6 523.5 189.7 522.4 192.6 519.8C195.5 517.2 197.6 512.6 199.6 510.0C201.7 507.4 203.1 504.6 204.9 504.4C206.6 504.2 208.2 506.2 210.1 509.0C212.0 511.8 213.6 515.2 216.4 520.9C219.1 526.5 223.4 536.8 226.5 542.9C229.6 549.0 231.5 553.0 234.7 557.6C238.0 562.2 242.1 567.4 245.8 570.8C249.4 574.2 253.1 575.9 256.7 578.1C260.4 580.3 264.1 581.7 267.7 583.9C271.4 586.1 275.1 589.5 278.7 591.3C282.4 593.1 285.7 593.8 289.7 594.9C293.7 596.0 300.6 597.6 302.7 598.2" stroke-width="5.8"/>
<path d="M0.1 624.0C17.6 624.0 86.3 624.1 105.1 624.0C124.0 623.9 111.3 625.1 113.3 623.3C115.2 621.5 116.0 617.2 117.0 613.0C118.0 608.8 118.6 603.3 119.2 598.0C119.9 592.7 120.5 585.9 121.1 581.0C121.8 576.1 122.4 571.3 123.1 568.5C123.9 565.7 124.3 562.6 125.5 564.0C126.7 565.4 128.7 572.2 130.5 576.7C132.3 581.2 134.0 587.1 136.4 591.3C138.8 595.5 142.0 599.5 144.8 602.0C147.5 604.5 150.2 605.1 153.0 606.0C155.8 606.9 158.9 607.8 161.4 607.3C163.9 606.8 165.2 606.2 168.0 603.3C170.8 600.4 174.7 595.1 178.0 590.0C181.3 584.9 184.9 578.7 188.0 572.7C191.1 566.7 193.9 560.5 196.4 554.0C198.9 547.5 201.2 539.5 203.0 534.0C204.8 528.5 205.9 523.8 207.0 521.0C208.1 518.2 208.5 517.5 209.5 517.5C210.5 517.5 211.9 518.9 213.3 521.0C214.6 523.1 215.5 526.3 217.6 530.0C219.8 533.7 223.2 538.6 226.0 543.3C228.8 548.0 231.0 553.4 234.2 558.0C237.5 562.6 241.6 567.8 245.3 571.2C248.9 574.6 252.6 576.3 256.3 578.5C259.9 580.7 263.6 582.1 267.3 584.3C270.9 586.5 274.6 589.9 278.2 591.7C281.9 593.5 285.2 594.1 289.2 595.3C293.2 596.4 300.1 598.0 302.3 598.6" stroke-width="5.8"/>
</g>
</g>
<rect x="1216.5" y="16.5" width="40.2" height="55.5" fill="#000" stroke="none"/>
<text transform="translate(1220 69.5) scale(1.0 1)" font-size="67.5" text-anchor="start" font-weight="normal" stroke="none" fill="#fff">c</text>
<text transform="translate(999.5 640.6) scale(1.0 1)" font-size="46.5" text-anchor="end" font-weight="normal" stroke="none"  fill="#000">0</text>
<text transform="translate(999.5 437.90000000000003) scale(1.0 1)" font-size="46.5" text-anchor="end" font-weight="normal" stroke="none"  fill="#000">5</text>
<text transform="translate(999.5 235.20000000000005) scale(1.0 1)" font-size="46.5" text-anchor="end" font-weight="normal" stroke="none"  fill="#000">10</text>
<text transform="translate(999.5 33.0) scale(1.0 1)" font-size="46.5" text-anchor="end" font-weight="normal" stroke="none"  fill="#000">15</text>
<text transform="translate(1012 677) scale(1.0 1)" font-size="46.5" text-anchor="middle" font-weight="normal" stroke="none"  fill="#000">2300</text>
<text transform="translate(1213.5 677) scale(1.0 1)" font-size="46.5" text-anchor="middle" font-weight="normal" stroke="none"  fill="#000">2400</text>
<text transform="translate(269.0 730.3) scale(0.97 1)" font-size="45" text-anchor="start" font-weight="bold" stroke="none"  fill="#000">Concentration, ppm (x 10<tspan dy="-20" font-size="26">3</tspan><tspan dy="20">)</tspan></text>
<text transform="translate(33.6 321.2) rotate(-90) scale(0.975 1)" font-size="45" font-weight="bold" text-anchor="middle" fill="#000" stroke="none">Area, %</text>
<text transform="translate(923.8 319.8) rotate(-90) scale(0.975 1)" font-size="45" font-weight="bold" text-anchor="middle" fill="#000" stroke="none">Transmission, <tspan font-style="italic">T</tspan>(%)</text>
<text transform="translate(988.5 738) scale(0.975 1)" font-size="45" text-anchor="start" font-weight="bold" stroke="none"  fill="#000">Frecuency, cm<tspan dy="-13" font-size="25">-1</tspan></text>
</g>
</svg>
</body></html>
